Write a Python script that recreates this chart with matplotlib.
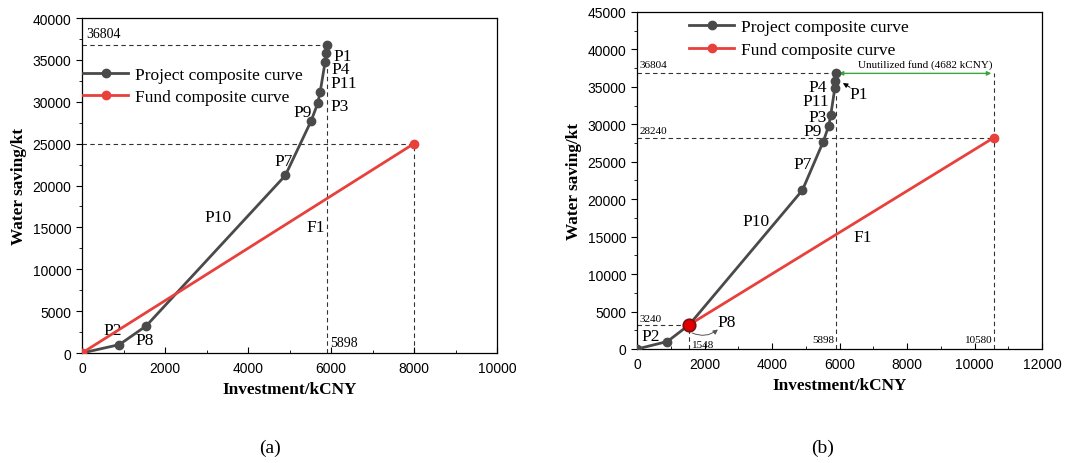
import matplotlib
matplotlib.use('Agg')
import matplotlib.pyplot as plt
from matplotlib.ticker import MultipleLocator

# project composite curve (cumulative investment, cumulative water saving)
proj_x = [0, 900, 1548, 4900, 5520, 5680, 5740, 5860, 5880, 5898]
proj_y = [0, 1000, 3240, 21200, 27700, 29800, 31200, 34800, 35800, 36804]

# fund composite curve
fund_a_x = [0, 8000]
fund_a_y = [0, 25000]
fund_b_x = [1548, 10580]
fund_b_y = [3240, 28240]

labels_a = [('P1', 6270, 35500), ('P4', 6230, 33900), ('P11', 6300, 32200),
            ('P3', 6220, 29500), ('P9', 5310, 28750), ('P7', 4850, 22980),
            ('P10', 3280, 16200), ('F1', 5630, 15000), ('P2', 740, 2700),
            ('P8', 1500, 1500)]
labels_b = [('P4', 5360, 34950), ('P11', 5290, 33050), ('P3', 5360, 30950),
            ('P9', 5215, 29150), ('P7', 4920, 24700), ('P10', 3540, 17150),
            ('F1', 6700, 14900), ('P2', 400, 1750)]

GREY = '#4a4a4a'
RED = '#e8413c'
serif = ['Liberation Serif', 'DejaVu Serif']
sans = ['Liberation Sans', 'DejaVu Sans']

plt.rcParams['font.family'] = sans


def style_axes(ax, xmax, ymax):
    ax.set_xlim(0, xmax)
    ax.set_ylim(0, ymax)
    ax.xaxis.set_major_locator(MultipleLocator(2000))
    ax.xaxis.set_minor_locator(MultipleLocator(1000))
    ax.yaxis.set_major_locator(MultipleLocator(5000))
    ax.yaxis.set_minor_locator(MultipleLocator(2500))
    ax.tick_params(axis='y', which='both', direction='out', labelsize=10)
    ax.tick_params(axis='x', which='both', direction='in', labelsize=10, pad=6)
    ax.tick_params(which='major', length=4)
    ax.tick_params(which='minor', length=2.5)
    ax.set_xlabel('Investment/kCNY', fontfamily=serif, fontweight='bold', fontsize=12.4)
    ax.set_ylabel('Water saving/kt', fontfamily=serif, fontweight='bold', fontsize=12.4)
    for s in ax.spines.values():
        s.set_linewidth(0.9)


def dash(ax, xs, ys):
    ax.plot(xs, ys, color='#333333', ls=(0, (4, 3)), lw=0.8, zorder=1)


fig = plt.figure(figsize=(10.79, 4.64), dpi=100)
axa = fig.add_axes([82 / 1079, 1 - 354 / 464, 415 / 1079, 335 / 464])
axb = fig.add_axes([637 / 1079, 1 - 350 / 464, 405 / 1079, 337 / 464])

# ---------- (a)
ax = axa
style_axes(ax, 10000, 40000)
dash(ax, [0, 5898], [36804, 36804])
dash(ax, [5898, 5898], [0, 36804])
dash(ax, [0, 8000], [25000, 25000])
dash(ax, [8000, 8000], [0, 25000])
ax.plot(proj_x, proj_y, color=GREY, lw=2, marker='o', ms=6, label='Project composite curve', zorder=3)
ax.plot(fund_a_x, fund_a_y, color=RED, lw=2, marker='o', ms=6, label='Fund composite curve', zorder=4)
for t, x, y in labels_a:
    ax.text(x, y, t, fontfamily=serif, fontsize=12.5, ha='center', va='center')
ax.text(100, 38200, '36804', fontfamily=serif, fontsize=10, va='center')
ax.text(5980, 1300, '5898', fontfamily=serif, fontsize=10, va='center')
ax.legend(loc='upper left', bbox_to_anchor=(-0.035, 0.9), frameon=False,
          prop={'family': serif, 'size': 12.5}, handlelength=2.6,
          handletextpad=0.4, labelspacing=0.3)

# ---------- (b)
ax = axb
style_axes(ax, 12000, 45000)
dash(ax, [0, 5898], [36804, 36804])
dash(ax, [5898, 5898], [0, 36804])
dash(ax, [0, 10580], [28240, 28240])
dash(ax, [10580, 10580], [0, 36804])
dash(ax, [0, 1548], [3240, 3240])
dash(ax, [1548, 1548], [0, 3240])
ax.annotate('', xy=(5898, 36804), xytext=(10580, 36804),
            arrowprops=dict(arrowstyle='<|-|>', color='#3aa53a', lw=1, mutation_scale=6))
ax.text(8550, 38000, 'Unutilized fund (4682 kCNY)', fontfamily=serif, fontsize=8,
        ha='center', va='center')
ax.plot(proj_x, proj_y, color=GREY, lw=2, marker='o', ms=6, label='Project composite curve', zorder=3)
ax.plot(fund_b_x, fund_b_y, color=RED, lw=2, marker='o', ms=6, label='Fund composite curve', zorder=4)
ax.plot([fund_b_x[0]], [fund_b_y[0]], 'o', ms=9, mfc='#e00000', mec='#7a1010', mew=1.2, zorder=5)
for t, x, y in labels_b:
    ax.text(x, y, t, fontfamily=serif, fontsize=12.5, ha='center', va='center')
ax.text(6580, 34100, 'P1', fontfamily=serif, fontsize=12.5, ha='center', va='center')
ax.annotate('', xy=(6030, 35700), xytext=(6380, 34750),
            arrowprops=dict(arrowstyle='-|>', color='black', lw=0.7, mutation_scale=7))
ax.text(2650, 3650, 'P8', fontfamily=serif, fontsize=12.5, ha='center', va='center')
ax.annotate('', xy=(2460, 2850), xytext=(1560, 2300),
            arrowprops=dict(arrowstyle='-|>', color='#555555', lw=0.7, mutation_scale=7,
                            connectionstyle='arc3,rad=0.35'))
ax.text(80, 38000, '36804', fontfamily=serif, fontsize=8, va='center')
ax.text(80, 29200, '28240', fontfamily=serif, fontsize=8, va='center')
ax.text(80, 4050, '3240', fontfamily=serif, fontsize=8, va='center')
ax.text(1640, 650, '1548', fontfamily=serif, fontsize=8, va='center')
ax.text(5850, 1300, '5898', fontfamily=serif, fontsize=8, va='center', ha='right')
ax.text(10530, 1300, '10580', fontfamily=serif, fontsize=8, va='center', ha='right')
ax.legend(loc='upper left', bbox_to_anchor=(0.09, 1.025), frameon=False,
          prop={'family': serif, 'size': 12.5}, handlelength=2.6,
          handletextpad=0.4, labelspacing=0.35)

fig.text(270 / 1079, 1 - 448 / 464, '(a)', fontfamily=serif, fontsize=14, ha='center', va='center')
fig.text(823 / 1079, 1 - 448 / 464, '(b)', fontfamily=serif, fontsize=14, ha='center', va='center')

fig.savefig('out.png', dpi=100)
